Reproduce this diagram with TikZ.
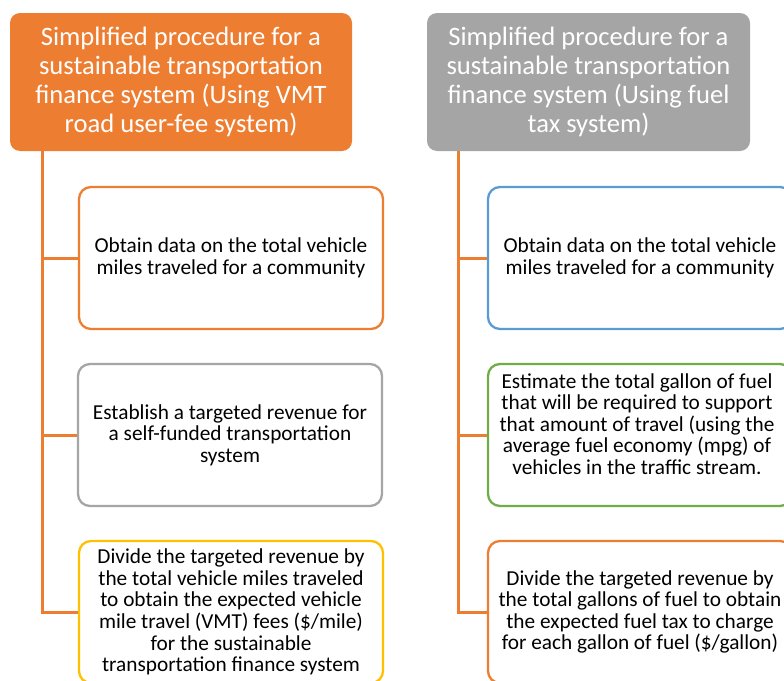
\documentclass[tikz,border=0pt]{standalone}
\usepackage{fontspec}
\setmainfont{Carlito}
\begin{document}
\definecolor{accOrange}{HTML}{ED7D31}
\definecolor{accGray}{HTML}{A5A5A5}
\definecolor{accBlue}{HTML}{5B9BD5}
\definecolor{accGreen}{HTML}{70AD47}
\definecolor{accGold}{HTML}{FFC000}
\begin{tikzpicture}[x=1pt,y=-1pt,
  header/.style={rounded corners=10pt, text=white, align=center,
    inner sep=0pt, minimum height=138pt,
    font=\fontsize{26.6}{29}\selectfont},
  stepbox/.style={draw, line width=2.3pt, fill=white, rounded corners=12pt,
    inner sep=0pt, minimum width=304pt, minimum height=142pt, align=center,
    text=black, font=\fontsize{21.3}{21.6}\selectfont},
  steptext/.style={align=center, inner sep=0pt, text=black,
    font=\fontsize{21.3}{21.6}\selectfont},
  trunk/.style={draw=accOrange, line width=3pt}
]
\useasboundingbox (0,0) rectangle (784,680);
\begin{scope}
\clip (0,0) rectangle (784,680);

% headers
\node[header, fill=accOrange, minimum width=342pt] (hl) at (181,82)
  {Simplified procedure for a\\sustainable transportation\\finance system (Using VMT\\road user-fee system)};
\node[header, fill=accGray, minimum width=323pt] (hr) at (588.5,82)
  {Simplified procedure for a\\sustainable transportation\\finance system (Using fuel\\tax system)};

% VMT road user-fee steps
\node[stepbox, draw=accOrange] (l1) at (231,258)
  {Obtain data on the total vehicle\\miles traveled for a community};
\node[stepbox, draw=accGray] (l2) at (230,435)
  {Establish a targeted revenue for\\a self-funded transportation\\system};
\node[stepbox, draw=accGold] (l3) at (231,612)
  {Divide the targeted revenue by\\the total vehicle miles traveled\\to obtain the expected vehicle\\mile travel (VMT) fees (\$/mile)\\for the sustainable\\transportation finance system};

% fuel tax steps
\node[stepbox, draw=accBlue] (r1) at (640,258)
  {Obtain data on the total vehicle\\miles traveled for a community};
\node[stepbox, draw=accGreen] (r2) at (640,435) {};
\node[steptext] (r2t) at (637,424)
  {Estimate the total gallon of fuel\\that will be required to support\\that amount of travel (using the\\average fuel economy (mpg) of\\vehicles in the traffic stream.};
\node[stepbox, draw=accOrange] (r3) at (640,612)
  {Divide the targeted revenue by\\the total gallons of fuel to obtain\\the expected fuel tax to charge\\for each gallon of fuel (\$/gallon)};

% brackets joining each header to its steps
\coordinate (tl) at (42,151);
\coordinate (tr) at (458,151);
\draw[trunk] (tl) |- (l3.west);
\draw[trunk] (tl |- l1.west) -- (l1.west);
\draw[trunk] (tl |- l2.west) -- (l2.west);
\draw[trunk] (tr) |- (r3.west);
\draw[trunk] (tr |- r1.west) -- (r1.west);
\draw[trunk] (tr |- r2.west) -- (r2.west);
\end{scope}
\end{tikzpicture}
\end{document}
